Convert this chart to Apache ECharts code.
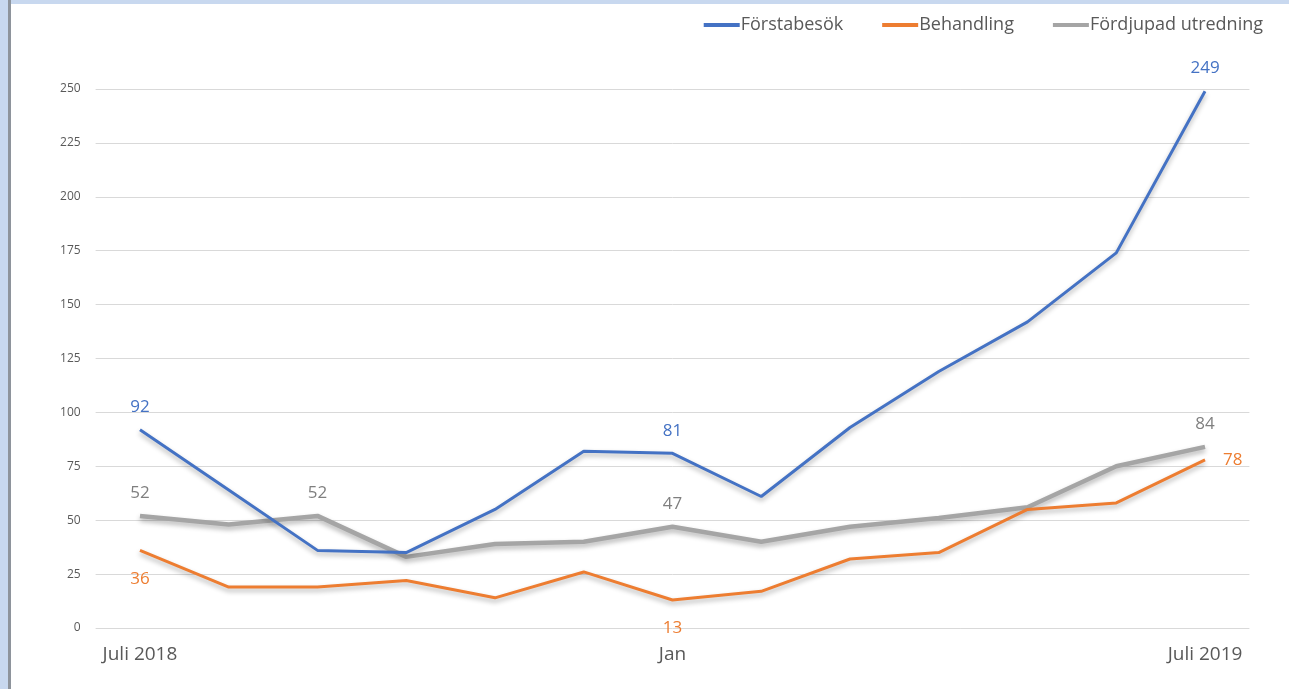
<!DOCTYPE html>
<html>
<head>
<meta charset="utf-8">
<script src="https://cdn.jsdelivr.net/npm/echarts@6/dist/echarts.min.js"></script>
<style>
  html, body { margin: 0; padding: 0; background: #fff; }
  #chart { width: 1289px; height: 689px; }
  .strip-top { position: absolute; left: 0; top: 0; width: 1289px; height: 4px; background: #c8d8ef; }
  .strip-left { position: absolute; left: 0; top: 0; width: 8px; height: 689px; background: #c8d8ef; border-right: 3px solid #8e949c; }
</style>
</head>
<body>
<div id="chart"></div>
<div class="strip-top"></div>
<div class="strip-left"></div>
<script>
const months = ['Juli 2018', 'Aug', 'Sep', 'Okt', 'Nov', 'Dec', 'Jan', 'Feb', 'Mar', 'Apr', 'Maj', 'Juni', 'Juli 2019'];
const forstabesok = [92, 64, 36, 35, 55, 82, 81, 61, 93, 119, 142, 174, 249];
const behandling = [36, 19, 19, 22, 14, 26, 13, 17, 32, 35, 55, 58, 78];
const fordjupad = [52, 48, 52, 33, 39, 40, 47, 40, 47, 51, 56, 75, 84];
const shownTicks = [0, 6, 12];

const chart = echarts.init(document.getElementById('chart'));
window.addEventListener('resize', function () {
  chart.resize();
});

// distance from the point for each label position
const labelGap = { top: 14, bottom: 20, right: 18 };

// which points get a value label, and where
function withLabels(values, color, spots) {
  return values.map((v, i) => {
    if (!(i in spots)) return { value: v, label: { show: false } };
    return {
      value: v,
      label: { show: true, position: spots[i], distance: labelGap[spots[i]], color: color, fontSize: 17 }
    };
  });
}

const shadow = { shadowColor: 'rgba(0,0,0,0.3)', shadowBlur: 5, shadowOffsetY: 3 };

function lineSeries(name, color, labelColor, width, values, spots, z) {
  return {
    name: name,
    type: 'line',
    symbol: 'circle',
    symbolSize: 0,
    showSymbol: true,
    color: color,
    lineStyle: Object.assign({ width: width, color: color }, shadow),
    data: withLabels(values, labelColor, spots),
    z: z
  };
}

const option = {
  textStyle: { fontFamily: 'Open Sans' },
  legend: {
    right: 21,
    top: 11,
    itemWidth: 36,
    itemHeight: 4,
    itemGap: 39,
    icon: 'rect',
    textStyle: { color: '#595959', fontSize: 18, padding: [0, 0, 0, -4] },
    data: ['Förstabesök', 'Behandling', 'Fördjupad utredning']
  },
  grid: { left: 95.6, right: 39.6, top: 89, bottom: 61 },
  xAxis: {
    type: 'category',
    data: months,
    boundaryGap: true,
    axisLine: { show: false },
    axisTick: { show: false },
    axisLabel: {
      interval: (i) => shownTicks.includes(i),
      color: '#595959',
      fontSize: 19,
      margin: 17
    }
  },
  yAxis: {
    type: 'value',
    min: 0,
    max: 250,
    interval: 25,
    axisLabel: { color: '#595959', fontSize: 12, margin: 15 },
    splitLine: { lineStyle: { color: '#d9d9d9', width: 1 } }
  },
  series: [
    lineSeries('Förstabesök', '#4472c4', '#4472c4', 3, forstabesok, { 0: 'top', 6: 'top', 12: 'top' }, 3),
    lineSeries('Behandling', '#ed7d31', '#ed7d31', 3, behandling, { 0: 'bottom', 6: 'bottom', 12: 'right' }, 2),
    lineSeries('Fördjupad utredning', '#a5a5a5', '#7f7f7f', 4.5, fordjupad, { 0: 'top', 2: 'top', 6: 'top', 12: 'top' }, 1)
  ]
};

option && chart.setOption(option);
</script>
</body>
</html>
